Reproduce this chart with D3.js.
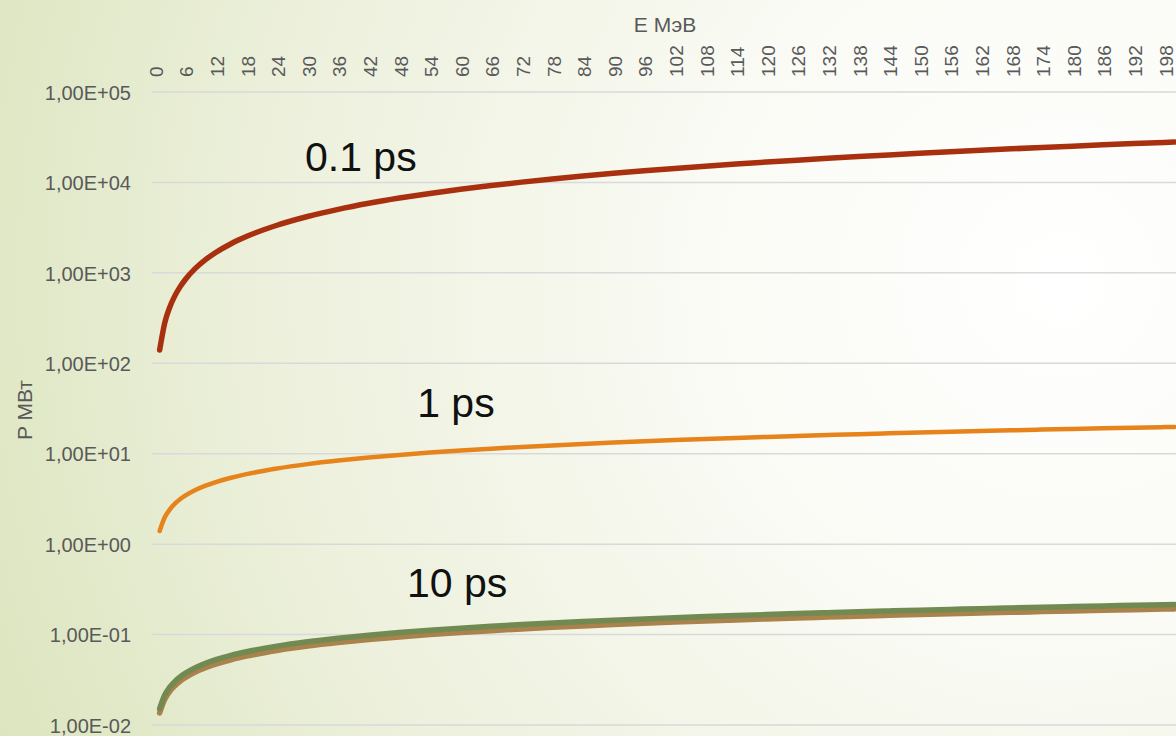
<!DOCTYPE html>
<html>
<head>
<meta charset="utf-8">
<script src="https://cdn.jsdelivr.net/npm/d3@7"></script>
<style>
  html, body { margin: 0; padding: 0; background: #fff; }
  svg { display: block; }
</style>
</head>
<body>
<svg id="chart" width="1176" height="736"></svg>
<script>
// Beam energy, MeV (category positions on the x axis)
const energy = [1, 2, 3, 4, 5, 6, 8, 10, 12, 15, 18, 24, 30, 36, 42, 48, 54, 60, 66, 72, 78, 84, 90, 96,
  102, 108, 114, 120, 126, 132, 138, 144, 150, 156, 162, 168, 174, 180, 186, 192, 198, 200];

// Power, MW, for each pulse duration
const power01ps = [140, 280, 420, 560, 700, 840, 1120, 1400, 1680, 2100, 2520, 3360, 4200, 5040, 5880, 6720,
  7560, 8400, 9240, 10080, 10920, 11760, 12600, 13440, 14280, 15120, 15960, 16800, 17640, 18480, 19320,
  20160, 21000, 21840, 22680, 23520, 24360, 25200, 26040, 26880, 27720, 28000];
const power1ps = [1.40, 1.98, 2.42, 2.80, 3.13, 3.43, 3.96, 4.43, 4.85, 5.42, 5.94, 6.86, 7.67, 8.40, 9.07,
  9.70, 10.29, 10.84, 11.37, 11.88, 12.36, 12.83, 13.28, 13.72, 14.14, 14.55, 14.95, 15.34, 15.71, 16.08,
  16.45, 16.80, 17.15, 17.49, 17.82, 18.15, 18.47, 18.78, 19.09, 19.40, 19.70, 19.80];
const power10psA = [0.0152, 0.0215, 0.0263, 0.0304, 0.0340, 0.0372, 0.0430, 0.0481, 0.0527, 0.0589, 0.0645,
  0.0745, 0.0833, 0.0912, 0.0985, 0.1053, 0.1117, 0.1177, 0.1235, 0.1290, 0.1342, 0.1393, 0.1442, 0.1489,
  0.1535, 0.1580, 0.1623, 0.1665, 0.1706, 0.1746, 0.1786, 0.1824, 0.1862, 0.1898, 0.1935, 0.1970, 0.2005,
  0.2039, 0.2073, 0.2106, 0.2139, 0.2150];
const power10psB = [0.0136, 0.0192, 0.0236, 0.0272, 0.0304, 0.0333, 0.0385, 0.0430, 0.0471, 0.0527, 0.0577,
  0.0666, 0.0745, 0.0816, 0.0881, 0.0942, 0.0999, 0.1053, 0.1105, 0.1154, 0.1201, 0.1246, 0.1290, 0.1332,
  0.1373, 0.1413, 0.1452, 0.1490, 0.1527, 0.1562, 0.1598, 0.1632, 0.1666, 0.1699, 0.1731, 0.1763, 0.1794,
  0.1825, 0.1855, 0.1884, 0.1914, 0.1923];

// Axis categories and labels
const categories = d3.range(0, 201);
const xTickLabels = [0, 6, 12, 18, 24, 30, 36, 42, 48, 54, 60, 66, 72, 78, 84, 90, 96, 102, 108, 114, 120,
  126, 132, 138, 144, 150, 156, 162, 168, 174, 180, 186, 192, 198];
const yTickValues = [1e-2, 1e-1, 1e0, 1e1, 1e2, 1e3, 1e4, 1e5];
const yTickLabels = ["1,00E-02", "1,00E-01", "1,00E+00", "1,00E+01", "1,00E+02", "1,00E+03", "1,00E+04", "1,00E+05"];

const seriesList = [
  { name: "0.1 ps", values: power01ps, color: "#a8300f", width: 5.5 },
  { name: "1 ps", values: power1ps, color: "#e6831a", width: 4.5 },
  { name: "10 ps B", values: power10psB, color: "#a9824c", width: 5.5 },
  { name: "10 ps A", values: power10psA, color: "#718a52", width: 5.5 }
];

// Pulse duration labels, placed in data coordinates (left edge, baseline)
const annotations = [
  { text: "0.1 ps", x: 29.5, y: 13400 },
  { text: "1 ps", x: 51.5, y: 25.4 },
  { text: "10 ps", x: 49.5, y: 0.26 }
];

const W = 1176, H = 736;
const plot = { left: 152, right: 1177, top: 92, bottom: 725 };

const svg = d3.select("#chart");

// Background wash: pale green fading to white toward the upper right
const defs = svg.append("defs");
const grad = defs.append("radialGradient")
  .attr("id", "bg").attr("gradientUnits", "userSpaceOnUse")
  .attr("cx", 1060).attr("cy", 280).attr("r", 1150);
grad.append("stop").attr("offset", "0%").attr("stop-color", "#ffffff");
grad.append("stop").attr("offset", "30%").attr("stop-color", "#fafbf5");
grad.append("stop").attr("offset", "70%").attr("stop-color", "#ecf0db");
grad.append("stop").attr("offset", "100%").attr("stop-color", "#dce5bf");
svg.append("rect").attr("width", W).attr("height", H).attr("fill", "url(#bg)");

const x = d3.scaleBand().domain(categories).range([plot.left, plot.right]).padding(0);
const xc = e => x(Math.floor(e)) + x.bandwidth() / 2 + (e - Math.floor(e)) * x.bandwidth();
const y = d3.scaleLog().domain([1e-2, 1e5]).range([plot.bottom, plot.top]);

// Horizontal gridlines
svg.append("g").selectAll("line").data(yTickValues).join("line")
  .attr("x1", plot.left).attr("x2", W + 10)
  .attr("y1", d => y(d)).attr("y2", d => y(d))
  .attr("stroke", "#d9d9d9").attr("stroke-width", 1.5);

const tickFont = "'Liberation Sans Narrow', 'Liberation Sans', Arial, sans-serif";

// Left axis labels
const yAxis = d3.axisLeft(y).tickValues(yTickValues)
  .tickFormat((d, i) => yTickLabels[i]).tickSize(0).tickPadding(0);
const gy = svg.append("g").attr("transform", "translate(131,0)").call(yAxis);
gy.select(".domain").remove();
gy.selectAll("text")
  .attr("font-family", tickFont).attr("font-size", 20).attr("fill", "#595959")
  .attr("dy", "0.36em");

// Top axis labels, rotated
const xAxis = d3.axisTop(x).tickValues(xTickLabels).tickSize(0).tickPadding(0);
const gx = svg.append("g").attr("transform", "translate(0,77)").call(xAxis);
gx.select(".domain").remove();
gx.selectAll("text")
  .attr("font-family", "'Liberation Sans', Arial, sans-serif").attr("font-size", 19).attr("fill", "#595959")
  .attr("text-anchor", "start")
  .attr("transform", "rotate(-90)")
  .attr("x", 0).attr("y", 1.5).attr("dy", "0.36em");

// Axis titles
svg.append("text").attr("x", 665).attr("y", 32).attr("text-anchor", "middle")
  .attr("font-family", "'Liberation Sans', Arial, sans-serif").attr("font-size", 21).attr("fill", "#595959")
  .text("E МэВ");
svg.append("text").attr("transform", "translate(32,410) rotate(-90)").attr("text-anchor", "middle")
  .attr("font-family", "'Liberation Sans', Arial, sans-serif").attr("font-size", 21).attr("fill", "#595959")
  .text("P МВт");

// Series lines
const line = d3.line().x((d, i) => xc(energy[i])).y(d => y(d)).curve(d3.curveMonotoneX);
svg.append("g").selectAll("path").data(seriesList).join("path")
  .attr("d", s => line(s.values))
  .attr("fill", "none")
  .attr("stroke", s => s.color)
  .attr("stroke-width", s => s.width)
  .attr("stroke-linecap", "round")
  .attr("stroke-linejoin", "round");

// Pulse duration labels
svg.append("g").selectAll("text").data(annotations).join("text")
  .attr("x", d => xc(d.x)).attr("y", d => y(d.y))
  .attr("font-family", "'Liberation Sans', Arial, sans-serif").attr("font-size", 41).attr("fill", "#111")
  .text(d => d.text);
</script>
</body>
</html>
